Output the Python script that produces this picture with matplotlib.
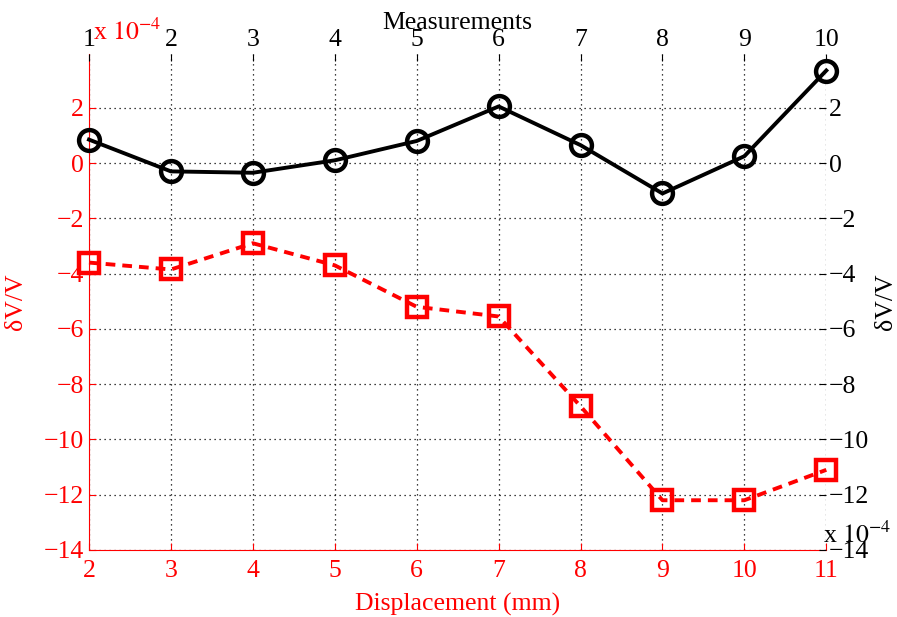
import numpy as np
import matplotlib
matplotlib.use("Agg")
import matplotlib.pyplot as plt

plt.rcParams['font.family'] = ['Liberation Serif', 'DejaVu Serif']
plt.rcParams['mathtext.fontset'] = 'stix'

# data (values in units of 1e-4)
displacement = [2, 3, 4, 5, 6, 7, 8, 9, 10, 11]
dv_displacement = [-3.6, -3.85, -2.9, -3.7, -5.2, -5.55, -8.8, -12.2, -12.2, -11.1]

measurements = [1, 2, 3, 4, 5, 6, 7, 8, 9, 10]
dv_measurements = [0.85, -0.3, -0.35, 0.1, 0.8, 2.05, 0.65, -1.1, 0.25, 3.35]

yticks = [-14, -12, -10, -8, -6, -4, -2, 0, 2]

red = '#ff0000'
fs = 18.5

fig = plt.figure(figsize=(8.97, 6.17), dpi=100)
ax = fig.add_axes([0.0992, 0.1086, 0.822, 0.804])

# red: displacement (bottom / left)
ax.plot(displacement, dv_displacement, '--s', color=red, lw=2.8,
        ms=14, mfc='none', mec=red, mew=3.2, dashes=(2.5, 1.8),
        zorder=3, clip_on=False)
ax.set_xlim(2, 11)
ax.set_ylim(-14, 3.95)
ax.set_xticks(displacement)
ax.set_yticks(yticks)
ax.grid(True, color='black', linestyle=(0, (1, 3)), linewidth=0.9)
ax.tick_params(direction='in', colors=red, labelsize=fs, length=5)
ax.tick_params(axis='x', pad=7)
ax.set_xlabel('Displacement (mm)', color=red, fontsize=fs, labelpad=8)
ax.set_ylabel('δV/V', color=red, fontsize=fs, labelpad=12)
ax.spines['left'].set_color(red)
ax.spines['bottom'].set_color(red)
ax.spines['top'].set_visible(False)
ax.spines['right'].set_visible(False)

# black: measurements (top / right)
ax2 = fig.add_axes(ax.get_position(), frameon=False)
ax2.plot(measurements, dv_measurements, '-o', color='black', lw=2.8,
         ms=15, mfc='none', mec='black', mew=3.2, zorder=3, clip_on=False)
ax2.set_xlim(1, 10)
ax2.set_ylim(-14, 3.95)
ax2.set_xticks(measurements)
ax2.set_yticks(yticks)
ax2.xaxis.tick_top()
ax2.xaxis.set_label_position('top')
ax2.yaxis.tick_right()
ax2.yaxis.set_label_position('right')
ax2.tick_params(direction='in', colors='black', labelsize=fs, length=5,
                pad=2)
ax2.set_xlabel('Measurements', fontsize=fs)
ax2.xaxis.set_label_coords(0.5, 1.05)
ax2.set_ylabel('δV/V', fontsize=fs, labelpad=4, rotation=90)
ax2.spines['top'].set_visible(True)
ax2.spines['right'].set_visible(True)
ax2.spines['top'].set_color('black')
ax2.spines['right'].set_color('black')
ax2.spines['top'].set_linewidth(1.3)
ax2.spines['right'].set_linewidth(1.3)

# exponent labels
fig.text(0.104, 0.927, r'x $10^{-4}$', color=red, fontsize=fs, ha='left', va='bottom')
fig.text(0.918, 0.112, r'x $10^{-4}$', color='black', fontsize=fs, ha='left', va='bottom')

fig.savefig('out.png', dpi=100)
